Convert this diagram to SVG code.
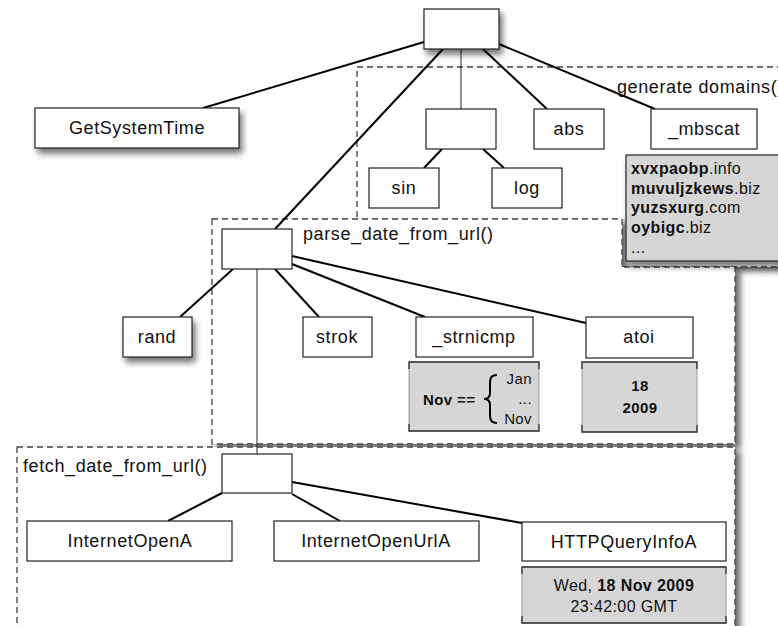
<svg xmlns="http://www.w3.org/2000/svg" width="778" height="626" viewBox="0 0 778 626">
  <defs>
    <filter id="shadow" x="-20%" y="-20%" width="150%" height="160%">
      <feGaussianBlur in="SourceAlpha" stdDeviation="3"/>
      <feOffset dx="3" dy="5" result="b"/>
      <feComponentTransfer><feFuncA type="linear" slope="0.55"/></feComponentTransfer>
      <feMerge><feMergeNode/><feMergeNode in="SourceGraphic"/></feMerge>
    </filter>
    <filter id="areaShadow" x="-5%" y="-5%" width="115%" height="115%">
      <feGaussianBlur in="SourceAlpha" stdDeviation="3"/>
      <feOffset dx="5" dy="4" result="b"/>
      <feComponentTransfer><feFuncA type="linear" slope="0.6"/></feComponentTransfer>
      <feMerge><feMergeNode/><feMergeNode in="SourceGraphic"/></feMerge>
    </filter>
  </defs>
  <style>
    .area { fill: #fff; stroke: #444; stroke-width: 1.3; stroke-dasharray: 6 4; }
    .box { fill: #fff; stroke: #222; stroke-width: 1.2; }
    .note { fill: #d6d6d6; stroke: #9a9a9a; stroke-width: 1; }
    .tick { fill: none; stroke: #333; stroke-width: 1.3; }
    .lbl { font-family: "Liberation Sans", Arial, sans-serif; font-size: 18px; letter-spacing: 0.6px; fill: #111; }
    .c { text-anchor: middle; }
    .small { font-family: "Liberation Sans", Arial, sans-serif; font-size: 16px; letter-spacing: 0.4px; fill: #111; }
    .b { font-weight: bold; }
    .edge { stroke: #000; stroke-width: 2; fill: none; }
    .thin { stroke: #222; stroke-width: 1; fill: none; }
  </style>

  <!-- scope areas -->
  <g id="area-generate">
    <rect class="area" x="357" y="67" width="440" height="200" filter="url(#areaShadow)"/>
    <text class="lbl" x="617" y="93">generate domains()</text>
  </g>
  <g id="area-parse">
    <path class="area" d="M212 219 H622 V267 H735 V444 H212 Z" filter="url(#areaShadow)"/>
    <text class="lbl" x="303" y="240">parse_date_from_url()</text>
  </g>
  <g id="area-fetch">
    <rect class="area" x="17" y="447" width="718" height="200" filter="url(#areaShadow)"/>
    <text class="lbl" x="23" y="472">fetch_date_from_url()</text>
  </g>

  <!-- connectors -->
  <g id="connectors">
    <line class="edge" x1="424" y1="42" x2="203" y2="108"/>
    <line class="edge" x1="443" y1="49" x2="275" y2="229"/>
    <line class="thin" x1="461" y1="49" x2="461" y2="109"/>
    <line class="edge" x1="483" y1="49" x2="547" y2="109"/>
    <line class="edge" x1="499" y1="44" x2="655" y2="109"/>
    <line class="edge" x1="442" y1="149" x2="424" y2="168"/>
    <line class="edge" x1="483" y1="149" x2="504" y2="168"/>
    <line class="edge" x1="233" y1="269" x2="180" y2="317"/>
    <line class="edge" x1="275" y1="269" x2="319" y2="317"/>
    <line class="edge" x1="292" y1="264" x2="425" y2="317"/>
    <line class="edge" x1="292" y1="256" x2="586" y2="323"/>
    <line class="thin" x1="257" y1="269" x2="257" y2="454"/>
    <line class="edge" x1="222" y1="493" x2="168" y2="521"/>
    <line class="edge" x1="292" y1="494" x2="340" y2="521"/>
    <line class="edge" x1="292" y1="482" x2="522" y2="523"/>
  </g>

  <!-- call nodes -->
  <g id="root"><rect class="box" x="424" y="9" width="75" height="40" filter="url(#shadow)"/></g>
  <g id="GetSystemTime">
    <rect class="box" x="35" y="108" width="204" height="40" filter="url(#shadow)"/>
    <text class="lbl c" x="137" y="134">GetSystemTime</text>
  </g>
  <g id="generate"><rect class="box" x="426" y="109" width="70" height="40"/></g>
  <g id="abs">
    <rect class="box" x="534" y="109" width="70" height="40"/>
    <text class="lbl c" x="569" y="135">abs</text>
  </g>
  <g id="mbscat">
    <rect class="box" x="651" y="109" width="106" height="40"/>
    <text class="lbl c" x="704" y="135">_mbscat</text>
  </g>
  <g id="sin">
    <rect class="box" x="369" y="168" width="70" height="40"/>
    <text class="lbl c" x="404" y="194">sin</text>
  </g>
  <g id="log">
    <rect class="box" x="492" y="168" width="70" height="40"/>
    <text class="lbl c" x="527" y="194">log</text>
  </g>
  <g id="domains">
    <rect x="626" y="155" width="170" height="106" fill="#d6d6d6" stroke="#333" stroke-width="1.3" filter="url(#shadow)"/>
    <text class="small" x="631" y="174"><tspan class="b">xvxpaobp</tspan>.info</text>
    <text class="small" x="631" y="194"><tspan class="b">muvuljzkews</tspan>.biz</text>
    <text class="small" x="631" y="213"><tspan class="b">yuzsxurg</tspan>.com</text>
    <text class="small" x="631" y="233"><tspan class="b">oybigc</tspan>.biz</text>
    <text class="small" x="631" y="253">...</text>
  </g>

  <g id="parse"><rect class="box" x="222" y="229" width="70" height="40"/></g>
  <g id="rand">
    <rect class="box" x="123" y="317" width="69" height="40" filter="url(#shadow)"/>
    <text class="lbl c" x="157" y="343">rand</text>
  </g>
  <g id="strok">
    <rect class="box" x="303" y="317" width="69" height="40"/>
    <text class="lbl c" x="337" y="343">strok</text>
  </g>
  <g id="strnicmp">
    <rect class="box" x="416" y="317" width="117" height="40"/>
    <text class="lbl c" x="474" y="343">_strnicmp</text>
  </g>
  <g id="strnicmp-note">
    <rect class="note" x="409" y="362" width="130" height="69"/>
    <path class="tick" d="M409 369 V362 H539 V369 M409 424 V431 H539 V424"/>
    <text class="small b" x="423" y="405" style="font-size:15px">Nov ==</text>
    <path d="M497 375 C491 375 490 378 490 384 L490 393 C490 397 488 399 484 399 C488 399 490 401 490 405 L490 414 C490 420 491 423 497 423" fill="none" stroke="#000" stroke-width="2"/>
    <text class="small" x="532" y="384" text-anchor="end" style="font-size:15px">Jan</text>
    <text class="small" x="532" y="404" text-anchor="end" style="font-size:15px">...</text>
    <text class="small" x="532" y="424" text-anchor="end" style="font-size:15px">Nov</text>
  </g>
  <g id="atoi">
    <rect class="box" x="586" y="317" width="107" height="41"/>
    <text class="lbl c" x="639" y="343">atoi</text>
  </g>
  <g id="atoi-note">
    <rect class="note" x="582" y="362" width="115" height="70"/>
    <path class="tick" d="M582 369 V362 H697 V369 M582 425 V432 H697 V425"/>
    <text class="small b c" x="640" y="391" style="font-size:15px">18</text>
    <text class="small b c" x="640" y="413" style="font-size:15px">2009</text>
  </g>

  <g id="fetch"><rect class="box" x="222" y="454" width="70" height="39"/></g>
  <g id="InternetOpenA">
    <rect class="box" x="27" y="521" width="205" height="40"/>
    <text class="lbl c" x="130" y="547">InternetOpenA</text>
  </g>
  <g id="InternetOpenUrlA">
    <rect class="box" x="274" y="521" width="205" height="40"/>
    <text class="lbl c" x="376" y="547">InternetOpenUrlA</text>
  </g>
  <g id="HTTPQueryInfoA">
    <rect class="box" x="522" y="522" width="204" height="39"/>
    <text class="lbl c" x="624" y="548">HTTPQueryInfoA</text>
  </g>
  <g id="http-note">
    <rect class="note" x="522" y="567" width="204" height="56"/>
    <path class="tick" d="M522 574 V567 H726 V574 M522 616 V623 H726 V616"/>
    <text class="small c" x="624" y="591">Wed, <tspan class="b">18 Nov 2009</tspan></text>
    <text class="small c" x="624" y="612">23:42:00 GMT</text>
  </g>
</svg>
